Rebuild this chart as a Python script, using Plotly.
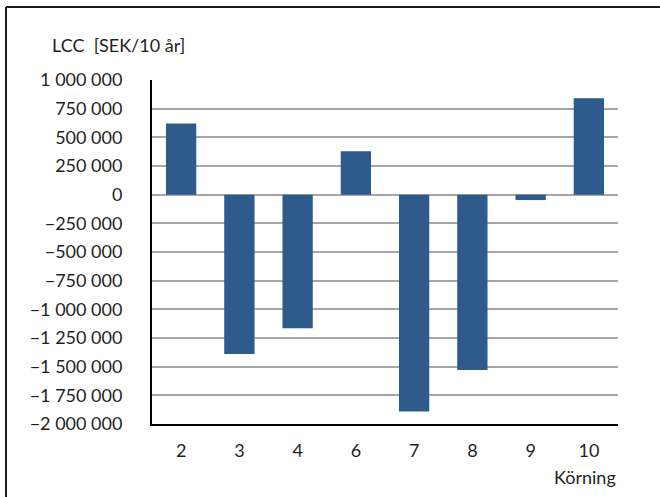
import plotly.graph_objects as go

# LCC per run (SEK over 10 years)
runs = ["2", "3", "4", "6", "7", "8", "9", "10"]
lcc = [620000, -1390000, -1165000, 378000, -1890000, -1530000, -47000, 840000]

tick_vals = [1000000, 750000, 500000, 250000, 0, -250000, -500000, -750000,
             -1000000, -1250000, -1500000, -1750000, -2000000]


def fmt(v):
    s = f"{abs(v):,}".replace(",", " ")
    return ("\u2212" + s) if v < 0 else s


tick_text = [fmt(v) for v in tick_vals]

FONT = "Lato, Calibri, Carlito, sans-serif"
TXT = "#1f1f1f"
FS = 18

fig = go.Figure(
    go.Bar(x=runs, y=lcc, marker=dict(color="#2E5A8C", line=dict(width=0)),
           width=0.52, hoverinfo="x+y")
)

W, H = 660, 497
L, R, T, B = 152, 42, 80, 73
pw, ph = W - L - R, H - T - B


def px(x):
    return (x - L) / pw


def py(y):
    return (H - B - y) / ph


fig.update_layout(
    width=W, height=H,
    margin=dict(l=L, r=R, t=T, b=B),
    paper_bgcolor="white", plot_bgcolor="white",
    showlegend=False,
    font=dict(family=FONT, size=FS, color=TXT),
    xaxis=dict(
        type="category", showgrid=False, zeroline=False,
        showline=True, linecolor="black", linewidth=2,
        ticks="", ticklabelstandoff=9,
        tickfont=dict(family=FONT, size=FS, color=TXT),
    ),
    yaxis=dict(
        range=[-2000000, 1000000], tickvals=tick_vals, ticktext=tick_text,
        showgrid=True, gridcolor="#a6a6a6", gridwidth=1.5,
        zeroline=True, zerolinecolor="#a6a6a6", zerolinewidth=1.5,
        showline=True, linecolor="black", linewidth=2,
        ticks="", ticklabelstandoff=24,
        tickfont=dict(family=FONT, size=FS, color=TXT),
    ),
    annotations=[
        dict(text="LCC  [SEK/10 år]", xref="paper", yref="paper",
             x=px(50), y=py(45), xanchor="left", yanchor="middle",
             showarrow=False, font=dict(family=FONT, size=FS, color=TXT)),
        dict(text="Körning", xref="paper", yref="paper",
             x=1.0, y=py(477), xanchor="right", yanchor="middle",
             showarrow=False, font=dict(family=FONT, size=FS, color=TXT)),
    ],
    shapes=[
        # outer frame: top and left edges
        dict(type="line", xref="paper", yref="paper",
             x0=px(6), x1=px(W + 5), y0=py(7), y1=py(7),
             line=dict(color="#1a1a1a", width=2), layer="below"),
        dict(type="line", xref="paper", yref="paper",
             x0=px(6), x1=px(6), y0=py(7), y1=py(H + 5),
             line=dict(color="#1a1a1a", width=2), layer="below"),
    ],
)

fig.write_html("out.html")
